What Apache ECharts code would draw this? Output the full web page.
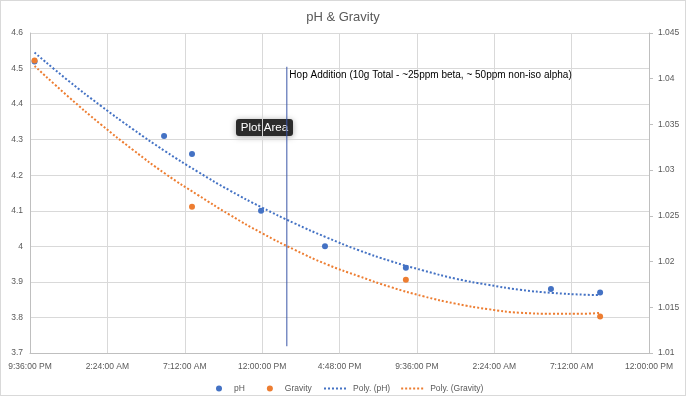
<!DOCTYPE html>
<html><head><meta charset="utf-8">
<script src="https://cdn.jsdelivr.net/npm/echarts@6/dist/echarts.min.js"></script>
<style>
html,body{margin:0;padding:0;background:#fff}
#c{width:686px;height:396px;position:absolute;left:0;top:0}
#b{width:686px;height:396px;position:absolute;left:0;top:0;box-sizing:border-box;border:1px solid #d9d9d9;pointer-events:none}
</style>
</head><body><div id="c"></div><div id="b"></div>
<script>
// ---- data ----
const axisStart = '2021-05-01T21:36';
const phTimes = ['2021-05-01T21:53','2021-05-02T05:55','2021-05-02T07:39','2021-05-02T11:56','2021-05-02T15:54','2021-05-02T20:55','2021-05-03T05:55','2021-05-03T08:58'];
const phValues = [4.52, 4.31, 4.26, 4.10, 4.00, 3.94, 3.88, 3.87];
const gravityTimes = ['2021-05-01T21:53','2021-05-02T07:39','2021-05-02T20:55','2021-05-03T08:58'];
const gravityValues = [1.042, 1.026, 1.018, 1.014];
const trendTimes = ['2021-05-01T21:53','2021-05-02T00:00','2021-05-02T02:00','2021-05-02T04:00','2021-05-02T06:00','2021-05-02T08:00','2021-05-02T10:00','2021-05-02T12:00','2021-05-02T14:00','2021-05-02T16:00','2021-05-02T18:00','2021-05-02T20:00','2021-05-02T22:00','2021-05-03T00:00','2021-05-03T02:00','2021-05-03T04:00','2021-05-03T06:00','2021-05-03T08:00','2021-05-03T08:58'];
const phTrend = [4.545, 4.465, 4.395, 4.329, 4.267, 4.210, 4.157, 4.109, 4.065, 4.025, 3.989, 3.958, 3.932, 3.909, 3.892, 3.878, 3.869, 3.864, 3.863];
const gravityTrend = [1.0414, 1.0380, 1.0350, 1.0322, 1.0296, 1.0273, 1.0251, 1.0231, 1.0213, 1.0197, 1.0184, 1.0172, 1.0162, 1.0154, 1.0148, 1.0144, 1.0143, 1.0143, 1.0144];
const hopTime = '2021-05-02T13:32';
const hopLineRange = [4.505, 3.719];
const hopLabel = 'Hop Addition (10g Total - ~25ppm beta, ~ 50ppm non-iso alpha)';
const xTickHours = 4.8;
const xSpanHours = 38.4;
const phAxis = {min: 3.7, max: 4.6, interval: 0.1};
const gravityAxis = {min: 1.01, max: 1.045, interval: 0.005};
const legendDots = ['pH', 'Gravity'];
const legendLines = ['Poly. (pH)', 'Poly. (Gravity)'];

// ---- helpers ----
const t0 = new Date(axisStart).getTime();
const hrs = s => (new Date(s).getTime() - t0) / 3600000;
const startHour = new Date(axisStart).getHours() + new Date(axisStart).getMinutes() / 60;
function fmtClock(v) {
  let m = Math.round((startHour + v) * 60) % 1440;
  const h = Math.floor(m / 60), mm = m % 60;
  const ap = h >= 12 ? 'PM' : 'AM';
  let h12 = h % 12; if (h12 === 0) h12 = 12;
  return h12 + ':' + String(mm).padStart(2, '0') + ':00 ' + ap;
}
const zip = (ts, vs) => ts.map((t, i) => [hrs(t), vs[i]]);

const BLUE = '#4472C4', ORANGE = '#ED7D31', TXT = '#595959', GRID = '#d9d9d9', AXIS = '#bfbfbf';
const FONT = '"Liberation Sans", Arial, sans-serif';

const chart = echarts.init(document.getElementById('c'), null, {renderer: 'canvas'});
chart.setOption({
  animation: false,
  backgroundColor: '#fff',
  textStyle: {fontFamily: FONT},
  title: {text: 'pH & Gravity', left: 'center', top: 6, textStyle: {fontSize: 13, fontWeight: 'normal', color: TXT, fontFamily: FONT}},
  grid: {left: 30, right: 37, top: 33, bottom: 43, containLabel: false},
  legend: [
    {data: legendDots, left: 211, top: 379, itemWidth: 20, itemHeight: 6, itemGap: 22, icon: 'circle',
     itemStyle: {opacity: 1},
     textStyle: {fontSize: 8.5, color: TXT, fontFamily: FONT}},
    {data: legendLines, left: 318, top: 379, itemWidth: 24, itemHeight: 6, itemGap: 10,
     itemStyle: {opacity: 0},
     textStyle: {fontSize: 8.5, color: TXT, fontFamily: FONT}}
  ],
  xAxis: {
    type: 'value', min: 0, max: xSpanHours, interval: xTickHours,
    axisLine: {show: true, lineStyle: {color: AXIS}},
    axisTick: {show: false},
    splitLine: {show: true, lineStyle: {color: GRID}},
    axisLabel: {formatter: fmtClock, fontSize: 8.5, color: TXT, margin: 9, fontFamily: FONT, showMaxLabel: true, showMinLabel: true}
  },
  yAxis: [
    {type: 'value', min: phAxis.min, max: phAxis.max, interval: phAxis.interval, position: 'left',
     axisLine: {show: true, lineStyle: {color: AXIS}}, axisTick: {show: false},
     splitLine: {show: true, lineStyle: {color: GRID}},
     axisLabel: {fontSize: 8.5, color: TXT, margin: 7, fontFamily: FONT, formatter: v => String(+v.toFixed(2))}},
    {type: 'value', min: gravityAxis.min, max: gravityAxis.max, interval: gravityAxis.interval, position: 'right',
     axisLine: {show: true, lineStyle: {color: AXIS}}, axisTick: {show: true, inside: false, length: 4, lineStyle: {color: AXIS}},
     splitLine: {show: false},
     axisLabel: {fontSize: 8.5, color: TXT, margin: 9, fontFamily: FONT, formatter: v => String(+v.toFixed(3))}}
  ],
  series: [
    {name: 'Poly. (pH)', type: 'line', yAxisIndex: 0, data: zip(trendTimes, phTrend), smooth: true, symbol: 'none', z: 2,
     color: BLUE, lineStyle: {color: BLUE, width: 2, type: [2, 2]}},
    {name: 'Poly. (Gravity)', type: 'line', yAxisIndex: 1, data: zip(trendTimes, gravityTrend), smooth: true, symbol: 'none', z: 2,
     color: ORANGE, lineStyle: {color: ORANGE, width: 2, type: [2, 2]}},
    {name: 'hop', type: 'line', yAxisIndex: 0, symbol: 'circle', symbolSize: 1, showSymbol: true, z: 3, silent: true,
     itemStyle: {color: 'rgba(0,0,0,0)'},
     lineStyle: {color: '#3A56A8', width: 1},
     data: [
       {value: [hrs(hopTime), hopLineRange[0]],
        label: {show: true, position: 'right', distance: 2, offset: [0, 8], formatter: hopLabel, color: '#000', fontSize: 10, fontFamily: FONT}},
       {value: [hrs(hopTime), hopLineRange[1]]}
     ]},
    {name: 'pH', type: 'scatter', yAxisIndex: 0, data: zip(phTimes, phValues), symbolSize: 6, z: 4, color: BLUE, itemStyle: {color: BLUE, opacity: 1}},
    {name: 'Gravity', type: 'scatter', yAxisIndex: 1, data: zip(gravityTimes, gravityValues), symbolSize: 6, z: 5, color: ORANGE, itemStyle: {color: ORANGE, opacity: 1}}
  ],
  graphic: [{
    type: 'group', left: 236, top: 119, z: 100,
    children: [
      {type: 'rect', shape: {x: 0, y: 0, width: 57, height: 17, r: 3},
       style: {fill: '#2b2b2b', shadowBlur: 6, shadowColor: 'rgba(0,0,0,0.35)', shadowOffsetY: 1}},
      {type: 'text', x: 28.5, y: 8.5, style: {text: 'Plot Area', fill: '#fff', fontSize: 11.5, fontFamily: FONT, align: 'center', verticalAlign: 'middle'}}
    ]
  }]
});
</script></body></html>
